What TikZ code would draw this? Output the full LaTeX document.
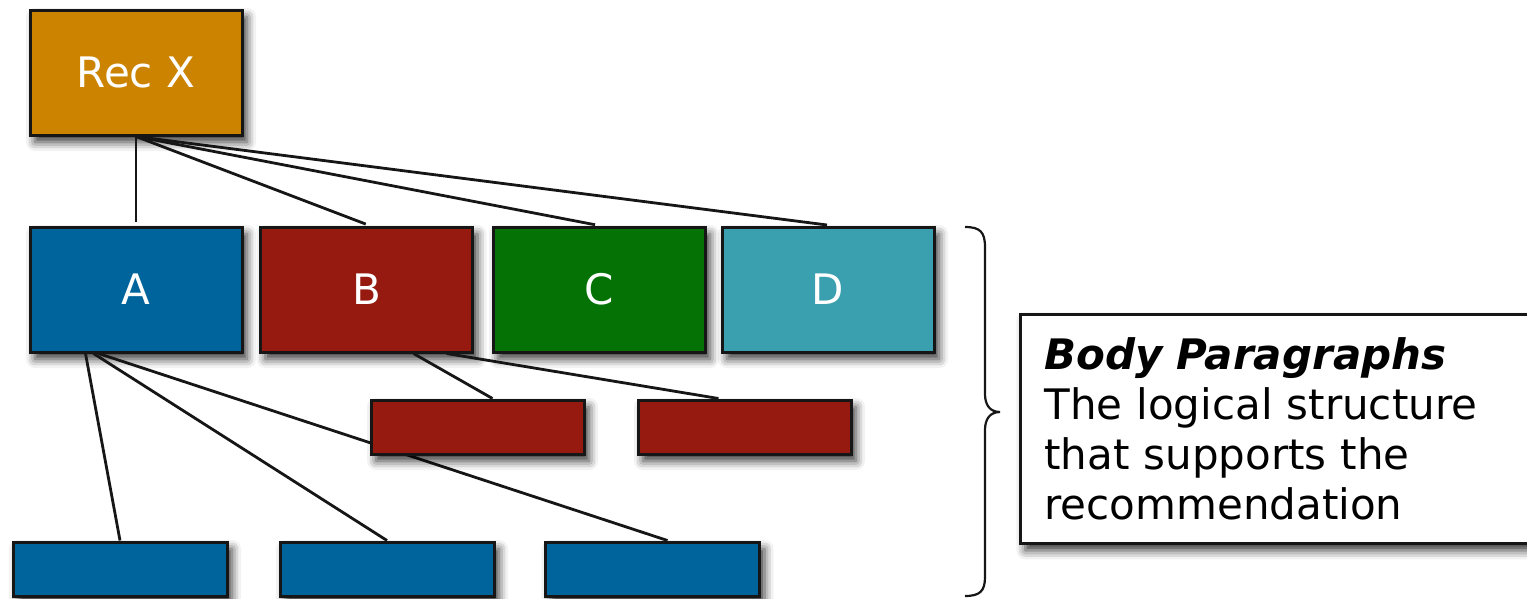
\documentclass[tikz,border=0pt]{standalone}
\usepackage{fontspec}
\setmainfont{DejaVu Sans}
\usetikzlibrary{shadows.blur,calc}
\definecolor{recorange}{RGB}{204,132,0}
\definecolor{aablue}{RGB}{0,100,156}
\definecolor{bbred}{RGB}{151,26,17}
\definecolor{ccgreen}{RGB}{5,114,5}
\definecolor{ddteal}{RGB}{58,159,174}
\definecolor{edgeblack}{RGB}{22,22,22}
\begin{document}
\begin{tikzpicture}[x=1pt,y=-1pt,
  softshadow/.style={blur shadow={shadow xshift=5pt,shadow yshift=-7pt,shadow blur radius=9pt,shadow opacity=80}},
  box/.style={draw=edgeblack, line width=3pt, softshadow,
    text=white, font=\fontsize{42}{50}\selectfont, inner sep=0pt},
  bigbox/.style={box, minimum width=212pt, minimum height=125pt},
  smallbox/.style={box, minimum width=213pt, minimum height=54pt},
  link/.style={line width=2.8pt, draw=edgeblack},
  toplink/.style={link, shorten >=4pt}]
\useasboundingbox (0,0) rectangle (1527,598);

% children of A (drawn first so that connectors end on their top edges)
\node[smallbox, fill=aablue, minimum width=214pt] (a1) at (120,569) {};
\node[smallbox, fill=aablue, minimum width=214pt] (a2) at (387,569) {};
\node[smallbox, fill=aablue, minimum width=214pt] (a3) at (652.5,569) {};
% top level
\node[bigbox, fill=recorange] (rec) at (136,72.5) {Rec X};
% second level
\node[bigbox, fill=aablue] (A) at (136,289.5) {A};
\node[bigbox, fill=bbred] (B) at (366.5,289.5) {B};
\node[bigbox, fill=ccgreen] (C) at (599,289.5) {C};
\node[bigbox, fill=ddteal] (D) at (828,289.5) {D};

% connectors from Rec X
\draw[toplink] (rec.south) -- (A.north);
\draw[toplink] (rec.south) -- ($(B.north)+(3,0)$);
\draw[toplink] (rec.south) -- (C.north);
\draw[toplink] (rec.south) -- ($(D.north)+(3,0)$);
% connectors from A (the last one passes behind the first red box)
\draw[link] ($(A.south west)+(57,0)$) -- (a1.north);
\draw[link] ($(A.south west)+(65,0)$) -- (a2.north);
\draw[link] ($(A.south west)+(70,0)$) -- ($(a3.north)+(15,0)$);

% children of B
\node[smallbox, fill=bbred] (b1) at (477.5,427) {};
\node[smallbox, fill=bbred] (b2) at (744.5,427) {};
\draw[link] ($(B.south)+(47,0)$) -- ($(b1.north)+(15,0)$);
\draw[link] ($(B.south)+(80,0)$) -- ($(b2.north)+(-26,0)$);

% brace
\draw[line width=2.2pt, draw=edgeblack]
  (965,227) .. controls (980,227) and (985,232) .. (985,247)
  -- (985,394) .. controls (985,405) and (990,412) .. (1000,412)
  .. controls (990,412) and (985,419) .. (985,430)
  -- (985,577) .. controls (985,591) and (980,596) .. (965,596);

% description box
\node[draw=edgeblack, line width=2.8pt, fill=white, softshadow,
  anchor=north west, minimum height=229pt, text width=480pt,
  inner xsep=24pt, inner ysep=0pt, align=left,
  font=\fontsize{42}{50}\selectfont] (note) at (1019,313)
  {\textbf{\textit{Body Paragraphs}}\\The logical structure\\that supports the\\recommendation};
\end{tikzpicture}
\end{document}
